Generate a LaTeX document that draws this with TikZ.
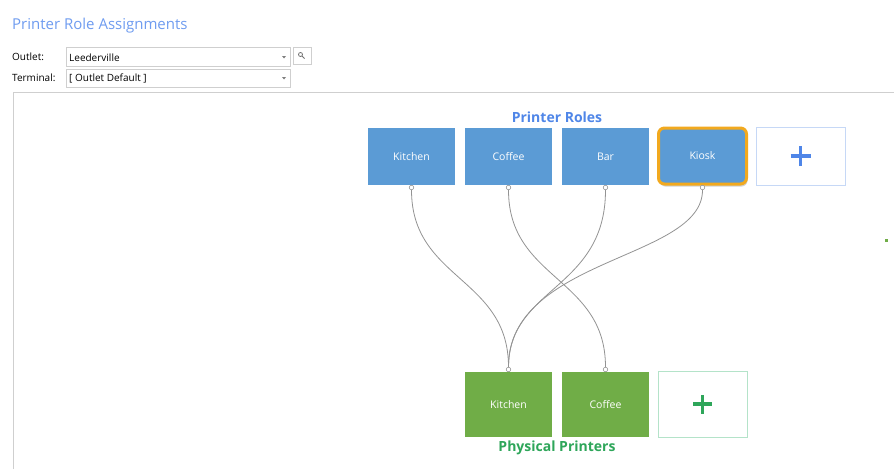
\documentclass[tikz,border=0pt]{standalone}
\usepackage{fontspec}
\setmainfont{Open Sans}
\usepackage{tikz}
\usetikzlibrary{shadows}
\usepackage{xcolor}

\definecolor{roleblue}{HTML}{5B9BD5}
\definecolor{printgreen}{HTML}{70AD47}
\definecolor{headblue}{HTML}{6F9CF0}
\definecolor{rolehead}{HTML}{4F86E8}
\definecolor{printhead}{HTML}{2EA65A}
\definecolor{kioskring}{HTML}{F2A91E}
\definecolor{fieldgray}{HTML}{CFCFCF}
\definecolor{addblue}{HTML}{C6D8F6}
\definecolor{addgreen}{HTML}{B4E3C9}

\tikzset{
  rolebox/.style={fill=roleblue, text=white, minimum width=87pt, minimum height=57pt,
    inner sep=0pt, font=\fontsize{10.5}{12}\selectfont},
  printbox/.style={fill=printgreen, text=white, minimum width=87pt, minimum height=65pt,
    inner sep=0pt, font=\fontsize{10.5}{12}\selectfont},
  addbox/.style={draw=#1, fill=white, line width=1pt, minimum width=89pt, inner sep=0pt},
  plus/.style={draw=#1, line width=3.6pt},
  port/.style={circle, draw=gray!80, fill=white, inner sep=0pt, minimum size=4.5pt, line width=0.6pt},
  wire/.style={draw=gray!85, line width=0.8pt},
  field/.style={draw=fieldgray, fill=white, line width=0.6pt},
  formlabel/.style={anchor=west, inner sep=0pt, font=\fontsize{10}{12}\selectfont}
}

\begin{document}
\begin{tikzpicture}[x=1pt, y=-1pt]
\useasboundingbox[fill=white] (0,0) rectangle (894,469);

% heading and selectors
\node[anchor=west, inner sep=0pt, text=headblue, font=\fontsize{15}{18}\selectfont] (title) at (12,26) {Printer Role Assignments};
\node[formlabel] (outletlbl) at (12,57) {Outlet:};
\node[formlabel] (termlbl) at (12,78) {Terminal:};
\draw[field] (66,47) rectangle (290,66);
\draw[field] (66,69) rectangle (290,87);
\node[formlabel] (outlet) at (69,57.5) {Leederville};
\node[formlabel] (term) at (69,78) {[ Outlet Default ]};
\fill[gray] (282,56) -- (286,56) -- (284,58.5) -- cycle;
\fill[gray] (282,77) -- (286,77) -- (284,79.5) -- cycle;
\draw[field] (293,47) rectangle (311,64);
\draw[gray!90!black, line width=0.8pt] (300.5,54.5) circle (2pt) (302,56) -- (304.5,58.5);

% panel
\draw[fieldgray, line width=0.8pt] (13,469) -- (13,92) -- (894,92);

% printer roles
\node[text=rolehead, font=\bfseries\fontsize{14}{16}\selectfont] (roles) at (557,117) {Printer Roles};
\node[rolebox] (rkitchen) at (411.5,156.5) {Kitchen};
\node[rolebox] (rcoffee) at (508.5,156.5) {Coffee};
\node[rolebox] (rbar) at (605.5,156.5) {Bar};
\node[rolebox, minimum width=88pt, minimum height=56pt, draw=kioskring, line width=3pt,
  rounded corners=6pt, drop shadow={shadow xshift=1pt, shadow yshift=-2.5pt, opacity=0.35}] (rkiosk) at (702.5,156) {Kiosk};
\node[addbox=addblue, minimum height=58pt] (radd) at (800.5,156) {};
\draw[plus=rolehead] ([xshift=-10pt]radd.center) -- ([xshift=10pt]radd.center)
  ([yshift=-10pt]radd.center) -- ([yshift=10pt]radd.center);

% physical printers
\node[printbox] (pkitchen) at (508.5,404.5) {Kitchen};
\node[printbox] (pcoffee) at (605.5,404.5) {Coffee};
\node[addbox=addgreen, minimum height=66pt] (padd) at (702.5,404) {};
\draw[plus=printhead] ([xshift=-9.5pt]padd.center) -- ([xshift=9.5pt]padd.center)
  ([yshift=-9.5pt]padd.center) -- ([yshift=9.5pt]padd.center);
\node[text=printhead, font=\bfseries\fontsize{14}{16}\selectfont] (printers) at (557,448) {Physical Printers};

% ports
\node[port] (okitchen) at (411.5,187.5) {};
\node[port] (ocoffee) at (508.5,187.5) {};
\node[port] (obar) at (605.5,187.5) {};
\node[port] (okiosk) at (702.5,187.5) {};
\node[port] (ikitchen) at (508.5,369.5) {};
\node[port] (icoffee) at (605.5,369.5) {};

% assignments
\draw[wire] (okitchen.south) .. controls +(0,90) and +(0,-90) .. (ikitchen.north);
\draw[wire] (ocoffee.south) .. controls +(0,90) and +(0,-90) .. (icoffee.north);
\draw[wire] (obar.south) .. controls +(0,100) and +(0,-80) .. (ikitchen.north);
\draw[wire] (okiosk.south) .. controls +(0,70) and +(0,-110) .. (ikitchen.north);

% stray marker at right edge
\fill[printgreen] (884.5,239) rectangle (888,241.5);
\end{tikzpicture}
\end{document}
